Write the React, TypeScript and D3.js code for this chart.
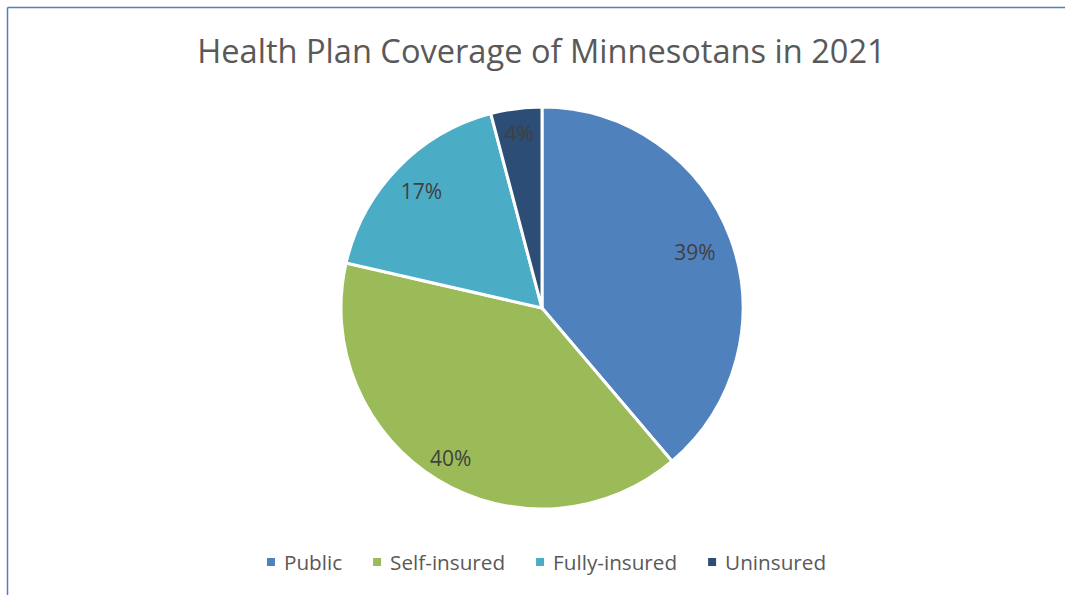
import React from "react";
import * as d3 from "d3";

const categories = ["Public", "Self-insured", "Fully-insured", "Uninsured"];
const values = [38.8, 39.8, 17.3, 4.1];
const labels = ["39%", "40%", "17%", "4%"];
const colors = ["#4f81bd", "#9bbb59", "#4bacc6", "#2c4d75"];

// layout only: radial position of each data label (fraction of radius)
const labelRadiusFrac = [0.81, 0.875, 0.835, 0.88];

const W = 1065;
const H = 595;
const FONT = "'Open Sans', 'Noto Sans', sans-serif";

function measure(text: string, size: number): number {
  if (typeof document === "undefined") return text.length * size * 0.55;
  const c = document.createElement("canvas");
  const ctx = c.getContext("2d");
  if (!ctx) return text.length * size * 0.55;
  ctx.font = `${size}px ${FONT}`;
  return ctx.measureText(text).width;
}

export default function App() {
  const cx = 542;
  const cy = 308;
  const r = 201;
  const data = categories.map((c, i) => ({ c, v: values[i], label: labels[i], color: colors[i], i }));
  const pie = d3.pie<any>().value((d: any) => d.v).sort(null).startAngle(0).endAngle(2 * Math.PI);
  const arcs = pie(data);
  const arc = d3.arc<any>().innerRadius(0).outerRadius(r);

  // legend layout
  const fontLegend = 20.7;
  const markerSize = 8;
  const markerGap = 9;
  const itemGap = 31;
  const widths = categories.map((c) => markerSize + markerGap + measure(c, fontLegend));
  const total = d3.sum(widths) + itemGap * (categories.length - 1);
  let x0 = 546.5 - total / 2;
  const legendX = widths.map((w) => {
    const x = x0;
    x0 += w + itemGap;
    return x;
  });

  return (
    <svg width={W} height={H} style={{ position: "absolute", left: 0, top: 0, display: "block" }}
      fontFamily={FONT}>
      <rect x={0} y={0} width={W} height={H} fill="#fff" />
      <line x1={7.5} y1={7.5} x2={W} y2={7.5} stroke="#4f81bd" strokeWidth={1.5} />
      <line x1={7.5} y1={7.5} x2={7.5} y2={H} stroke="#4f81bd" strokeWidth={1.5} />
      <text x={541.5} y={63} textAnchor="middle" fontSize={32.6} fill="#595959">
        Health Plan Coverage of Minnesotans in 2021
      </text>
      <g transform={`translate(${cx},${cy})`}>
        {arcs.map((a, i) => (
          <path key={i} d={arc(a) || ""} fill={a.data.color} stroke="#fff" strokeWidth={3} strokeLinejoin="round" />
        ))}
        {arcs.map((a, i) => {
          const lr = r * labelRadiusFrac[i];
          const [lx, ly] = d3.arc<any>().innerRadius(lr).outerRadius(lr).centroid(a);
          return (
            <text key={"l" + i} x={lx} y={ly} textAnchor="middle" dominantBaseline="central" fontSize={21} fill="#404040">
              {a.data.label}
            </text>
          );
        })}
      </g>
      <g>
        {categories.map((c, i) => (
          <g key={c} transform={`translate(${legendX[i]},562)`}>
            <rect x={0} y={-markerSize / 2} width={markerSize} height={markerSize} fill={colors[i]} />
            <text x={markerSize + markerGap} y={0} dominantBaseline="central" fontSize={fontLegend} fill="#595959">
              {c}
            </text>
          </g>
        ))}
      </g>
    </svg>
  );
}
